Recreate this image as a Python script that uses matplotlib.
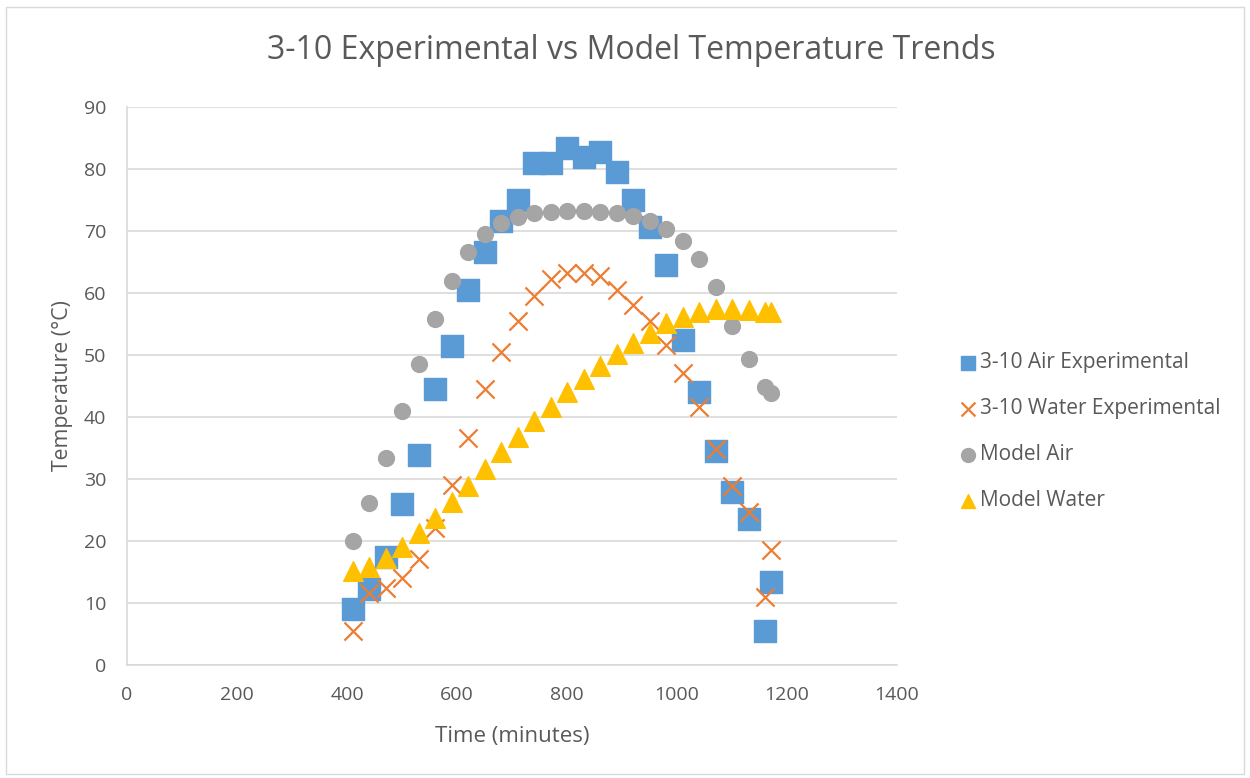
import matplotlib.pyplot as plt
from matplotlib.patches import Rectangle

plt.rcParams['font.family'] = ['Open Sans', 'DejaVu Sans']

# time stamps (minutes)
time = [410, 440, 470, 500, 530, 560, 590, 620, 650, 680, 710, 740, 770, 800,
        830, 860, 890, 920, 950, 980, 1010, 1040, 1070, 1100, 1130, 1160, 1170]

air_exp = [9.0, 12.3, 17.4, 26.0, 33.9, 44.5, 51.5, 60.5, 66.6, 71.6, 75.0, 81.0, 81.0, 83.4,
           82.0, 82.7, 79.5, 75.0, 70.6, 64.5, 52.4, 44.0, 34.5, 27.9, 23.5, 5.5, 13.4]
water_exp = [5.5, 11.6, 12.4, 14.0, 17.1, 22.1, 29.0, 36.6, 44.5, 50.5, 55.5, 59.5, 62.3, 63.3,
             63.2, 62.7, 60.5, 58.1, 55.5, 51.6, 47.1, 41.6, 34.8, 28.9, 24.7, 11.0, 18.5]
model_air = [20.0, 26.1, 33.4, 41.0, 48.5, 55.8, 61.9, 66.6, 69.5, 71.3, 72.3, 72.9, 73.1, 73.2,
             73.2, 73.1, 72.9, 72.5, 71.6, 70.4, 68.4, 65.5, 61.0, 54.7, 49.4, 44.8, 43.9]
model_water = [15.1, 15.8, 17.3, 19.1, 21.3, 23.7, 26.3, 28.9, 31.6, 34.3, 36.8, 39.4, 41.6, 44.0,
               46.1, 48.2, 50.1, 51.9, 53.6, 55.1, 56.1, 57.0, 57.5, 57.5, 57.3, 56.9, 56.9]

fig = plt.figure(figsize=(12.5, 7.78), dpi=100)
ax = fig.add_axes([0.1016, 0.1452, 0.616, 0.7172])

ax.scatter(time, air_exp, s=250, marker='s', color='#5B9BD5', label='3-10 Air Experimental', zorder=3)
ax.scatter(time, water_exp, s=170, marker='x', color='#ED7D31', linewidths=1.6,
           label='3-10 Water Experimental', zorder=4)
ax.scatter(time, model_air, s=130, marker='o', color='#A5A5A5', label='Model Air', zorder=5)
ax.scatter(time, model_water, s=200, marker='^', color='#FFC000', label='Model Water', zorder=6)

ax.set_xlim(0, 1400)
ax.set_ylim(0, 90)
ax.set_xticks(range(0, 1401, 200))
ax.set_yticks(range(0, 91, 10))
ax.grid(axis='y', color='#D9D9D9', linewidth=1.2)
ax.set_axisbelow(True)
for side in ['top', 'right']:
    ax.spines[side].set_visible(False)
for side in ['left', 'bottom']:
    ax.spines[side].set_color('#D9D9D9')
    ax.spines[side].set_linewidth(1.2)
ax.tick_params(length=0, labelsize=14, labelcolor='#595959', pad=15)

ax.set_xlabel('Time (minutes)', fontsize=16, color='#595959', labelpad=16)
ax.set_ylabel('Temperature (°C)', fontsize=15.3, color='#595959', labelpad=8)
fig.text(0.505, 0.935, '3-10 Experimental vs Model Temperature Trends',
         ha='center', va='center', fontsize=23, color='#595959')

leg = fig.legend(loc='center left', bbox_to_anchor=(0.752, 0.445), frameon=False,
                 fontsize=15, labelcolor='#595959', handletextpad=0.1,
                 labelspacing=1.2, handlelength=0.9)
for h in leg.legend_handles:
    h.set_sizes([100])

fig.patches.append(Rectangle((0.005, 0.005), 0.99, 0.986, transform=fig.transFigure,
                             fill=False, edgecolor='#D9D9D9', linewidth=1))

fig.savefig('out.png', dpi=100)
